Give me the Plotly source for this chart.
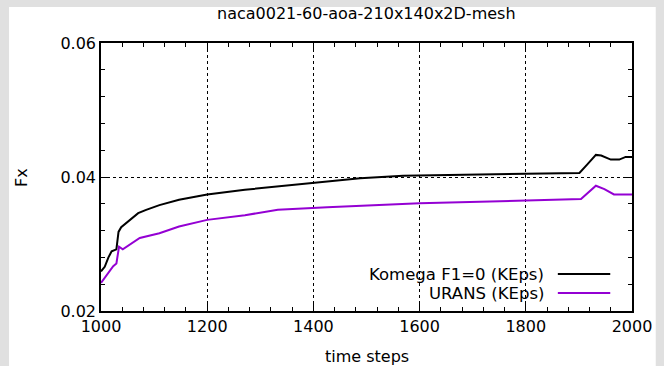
import plotly.graph_objects as go

# ---- data ----
komega_t = [1000, 1007, 1014, 1020, 1029, 1031, 1033, 1038, 1054, 1070, 1085, 1110,
            1147, 1200, 1271, 1333, 1402, 1488, 1569, 1675, 1799, 1901, 1915, 1932,
            1942, 1960, 1976, 1988, 2000]
komega_fx = [0.0259, 0.0266, 0.0280, 0.0289, 0.0292, 0.0305, 0.0318, 0.0325, 0.0336,
             0.0346, 0.0351, 0.0358, 0.0366, 0.0374, 0.0381, 0.0386, 0.0392, 0.0398,
             0.0402, 0.0403, 0.0405, 0.0406, 0.0418, 0.0433, 0.0432, 0.0426, 0.0426,
             0.0430, 0.0430]

urans_t = [1000, 1011, 1023, 1029, 1032, 1034, 1041, 1073, 1110, 1147, 1200, 1271,
           1333, 1426, 1600, 1799, 1904, 1932, 1948, 1966, 1980, 2000]
urans_fx = [0.0242, 0.0254, 0.0267, 0.0271, 0.0285, 0.0296, 0.0292, 0.0309, 0.0316,
            0.0326, 0.0336, 0.0343, 0.0351, 0.0355, 0.0361, 0.0365, 0.0367, 0.0387,
            0.0382, 0.0374, 0.0374, 0.0374]

series_names = ["Komega F1=0 (KEps)", "URANS (KEps)"]
series_colors = ["#000000", "#9400d3"]

title_text = "naca0021-60-aoa-210x140x2D-mesh"
x_title = "time steps"
y_title = "Fx"

FONT = "DejaVu Sans"

fig = go.Figure()
fig.add_trace(go.Scatter(x=komega_t, y=komega_fx, mode="lines", name=series_names[0],
                         line=dict(color=series_colors[0], width=2), showlegend=False))
fig.add_trace(go.Scatter(x=urans_t, y=urans_fx, mode="lines", name=series_names[1],
                         line=dict(color=series_colors[1], width=2), showlegend=False))

axis_common = dict(
    ticks="inside", ticklen=8, tickwidth=1, tickcolor="black",
    showline=True, linecolor="black", linewidth=1.5, mirror="ticks",
    showgrid=True, gridcolor="black", griddash="dot", gridwidth=1,
    zeroline=False, tickfont=dict(family=FONT, size=16, color="black"),
)

fig.update_xaxes(range=[1000, 2000], tick0=1000, dtick=200,
                 minor=dict(ticks="inside", ticklen=4, dtick=40, tick0=1000,
                            tickcolor="black", showgrid=False),
                 **axis_common)
fig.update_yaxes(range=[0.02, 0.06], tick0=0.02, dtick=0.02, tickformat=".2f",
                 minor=dict(ticks="inside", ticklen=4, dtick=0.004, tick0=0.02,
                            tickcolor="black", showgrid=False),
                 **axis_common)

L, R, T, B = 101, 26, 43, 55
W, H = 664, 366
pw, ph = W - L - R, H - T - B

def px(x):
    return (x - L) / pw

def py(y):
    return (H - B - y) / ph

shapes = [
    dict(type="rect", xref="paper", yref="paper", x0=px(8), x1=px(662),
         y0=py(366), y1=py(7), fillcolor="white", line=dict(width=0), layer="below"),
]
annotations = [
    dict(text=title_text, xref="paper", yref="paper", x=0.5, y=py(13),
         showarrow=False, font=dict(family=FONT, size=16, color="black"),
         xanchor="center", yanchor="middle"),
    dict(text=x_title, xref="paper", yref="paper", x=0.5, y=py(356),
         showarrow=False, font=dict(family=FONT, size=16, color="black"),
         xanchor="center", yanchor="middle"),
    dict(text=y_title, xref="paper", yref="paper", x=px(20), y=py(177),
         showarrow=False, textangle=-90, font=dict(family=FONT, size=16, color="black"),
         xanchor="center", yanchor="middle"),
]
legend_y = [274, 293]
for name, color, ly in zip(series_names, series_colors, legend_y):
    annotations.append(dict(text=name, xref="paper", yref="paper", x=px(551), y=py(ly),
                            showarrow=False, font=dict(family=FONT, size=16.5, color="black"),
                            xanchor="right", yanchor="middle"))
    shapes.append(dict(type="line", xref="paper", yref="paper", x0=px(563), x1=px(616),
                       y0=py(ly), y1=py(ly), line=dict(color=color, width=2)))

fig.update_layout(
    width=W, height=H,
    margin=dict(l=L, r=R, t=T, b=B),
    paper_bgcolor="#e0e0e0", plot_bgcolor="white",
    shapes=shapes, annotations=annotations,
    showlegend=False,
)

fig.write_html("out.html",
               config={"displayModeBar": False},
               post_script="document.body.style.margin='0';document.body.style.overflow='hidden';")
